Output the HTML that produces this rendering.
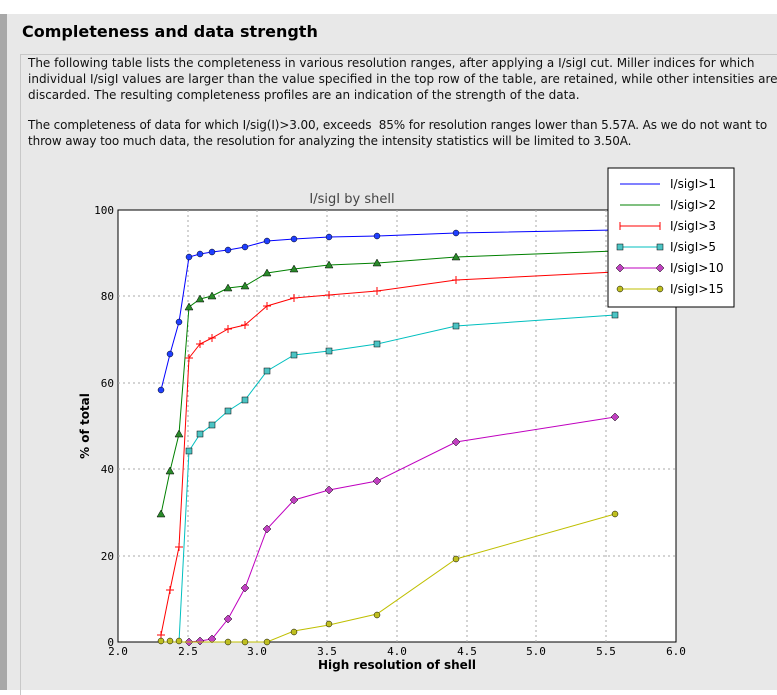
<!DOCTYPE html>
<html><head><meta charset="utf-8"><style>
body{margin:0;width:777px;height:690px;background:#fff;overflow:hidden;font-family:"DejaVu Sans","Liberation Sans",sans-serif;}
#side{position:absolute;left:0;top:14px;width:7px;height:676px;background:#a8a8a8;}
#panel{position:absolute;left:7px;top:14px;width:770px;height:676px;background:#e8e8e8;}
h2{position:absolute;left:15px;top:8px;margin:0;font-size:16px;font-weight:bold;color:#000;}
#box{position:absolute;left:13px;top:40px;width:757px;height:640px;border-top:1px solid #c8c8c8;border-left:1px solid #c8c8c8;}
p{position:absolute;left:28px;margin:0;font-size:12px;line-height:16px;color:#111;white-space:nowrap;}
svg{position:absolute;left:0;top:0;}
</style></head><body>
<div id="side"></div>
<div id="panel"><h2>Completeness and data strength</h2><div id="box"></div></div>
<p style="top:55px">The following table lists the completeness in various resolution ranges, after applying a I/sigI cut. Miller indices for which<br>individual I/sigI values are larger than the value specified in the top row of the table, are retained, while other intensities are<br>discarded. The resulting completeness profiles are an indication of the strength of the data.</p>
<p style="top:117px;letter-spacing:-0.12px">The completeness of data for which I/sig(I)&gt;3.00, exceeds&nbsp; 85% for resolution ranges lower than 5.57A. As we do not want to<br>throw away too much data, the resolution for analyzing the intensity statistics will be limited to 3.50A.</p>
<svg width="777" height="690" font-family="DejaVu Sans Mono, Liberation Mono, monospace">
<rect x="118" y="210" width="558" height="432" fill="#fff" stroke="#000"/>
<g stroke="#aaa" stroke-dasharray="2,3">
<line x1="188" y1="210" x2="188" y2="642"/><line x1="257" y1="210" x2="257" y2="642"/><line x1="327" y1="210" x2="327" y2="642"/><line x1="397" y1="210" x2="397" y2="642"/><line x1="467" y1="210" x2="467" y2="642"/><line x1="536" y1="210" x2="536" y2="642"/><line x1="606" y1="210" x2="606" y2="642"/>
<line x1="118" y1="296" x2="676" y2="296"/><line x1="118" y1="383" x2="676" y2="383"/><line x1="118" y1="469" x2="676" y2="469"/><line x1="118" y1="556" x2="676" y2="556"/>
</g>
<g font-size="11" text-anchor="middle" fill="#000">
<text x="118" y="655">2.0</text><text x="188" y="655">2.5</text><text x="257" y="655">3.0</text><text x="327" y="655">3.5</text><text x="397" y="655">4.0</text><text x="467" y="655">4.5</text><text x="536" y="655">5.0</text><text x="606" y="655">5.5</text><text x="676" y="655">6.0</text>
</g>
<g font-size="11" text-anchor="end"><text x="114" y="214">100</text><text x="114" y="300">80</text><text x="114" y="387">60</text><text x="114" y="473">40</text><text x="114" y="560">20</text><text x="114" y="646">0</text></g>
<text x="397" y="669" font-family="DejaVu Sans,sans-serif" font-size="12" font-weight="bold" text-anchor="middle">High resolution of shell</text>
<text x="0" y="0" font-family="DejaVu Sans,sans-serif" font-size="12" font-weight="bold" text-anchor="middle" transform="translate(89,426) rotate(-90)">% of total</text>
<text x="352" y="203" font-family="DejaVu Sans,sans-serif" font-size="13" fill="#444" text-anchor="middle">I/sigI by shell</text>
<polyline fill="none" stroke="#0000ff" points="161,390 170,354 179,322 189,257 200,254 212,252 228,250 245,247 267,241 294,239 329,237 377,236 456,233 615,230"/>
<g fill="#1f3fff" stroke="#000" stroke-width=".5"><circle cx="161" cy="390" r="3"/><circle cx="170" cy="354" r="3"/><circle cx="179" cy="322" r="3"/><circle cx="189" cy="257" r="3"/><circle cx="200" cy="254" r="3"/><circle cx="212" cy="252" r="3"/><circle cx="228" cy="250" r="3"/><circle cx="245" cy="247" r="3"/><circle cx="267" cy="241" r="3"/><circle cx="294" cy="239" r="3"/><circle cx="329" cy="237" r="3"/><circle cx="377" cy="236" r="3"/><circle cx="456" cy="233" r="3"/><circle cx="615" cy="230" r="3"/></g>
<polyline fill="none" stroke="#008000" points="161,514 170,471 179,434 189,307 200,299 212,296 228,288 245,286 267,273 294,269 329,265 377,263 456,257 615,251"/>
<g fill="#2a8a2a" stroke="#000" stroke-width=".5">
<polygon points="161,510 157,517 165,517"/><polygon points="170,467 166,474 174,474"/><polygon points="179,430 175,437 183,437"/><polygon points="189,303 185,310 193,310"/><polygon points="200,295 196,302 204,302"/><polygon points="212,292 208,299 216,299"/><polygon points="228,284 224,291 232,291"/><polygon points="245,282 241,289 249,289"/><polygon points="267,269 263,276 271,276"/><polygon points="294,265 290,272 298,272"/><polygon points="329,261 325,268 333,268"/><polygon points="377,259 373,266 381,266"/><polygon points="456,253 452,260 460,260"/></g>
<polyline fill="none" stroke="#ff0000" points="161,635 170,590 179,547 189,358 200,344 212,338 228,329 245,325 267,306 294,298 329,295 377,291 456,280 615,272"/>
<path stroke="#ff0000" d="M157,635h8M161,631v8M166,590h8M170,586v8M175,547h8M179,543v8M185,358h8M189,354v8M196,344h8M200,340v8M208,338h8M212,334v8M224,329h8M228,325v8M241,325h8M245,321v8M263,306h8M267,302v8M290,298h8M294,294v8M325,295h8M329,291v8M373,291h8M377,287v8M452,280h8M456,276v8"/>
<polyline fill="none" stroke="#00bfbf" points="161,642 170,642 179,642 189,451 200,434 212,425 228,411 245,400 267,371 294,355 329,351 377,344 456,326 615,315"/>
<g fill="#4cc4c4" stroke="#000" stroke-width=".5"><rect x="186" y="448" width="6" height="6"/><rect x="197" y="431" width="6" height="6"/><rect x="209" y="422" width="6" height="6"/><rect x="225" y="408" width="6" height="6"/><rect x="242" y="397" width="6" height="6"/><rect x="264" y="368" width="6" height="6"/><rect x="291" y="352" width="6" height="6"/><rect x="326" y="348" width="6" height="6"/><rect x="374" y="341" width="6" height="6"/><rect x="453" y="323" width="6" height="6"/><rect x="612" y="312" width="6" height="6"/></g>
<polyline fill="none" stroke="#bf00bf" points="161,642 170,642 179,642 189,642 200,641 212,639 228,619 245,588 267,529 294,500 329,490 377,481 456,442 615,417"/>
<g fill="#c040c0" stroke="#000" stroke-width=".5">
<path d="M189,638l4,4l-4,4l-4,-4zM200,637l4,4l-4,4l-4,-4zM212,635l4,4l-4,4l-4,-4zM228,615l4,4l-4,4l-4,-4zM245,584l4,4l-4,4l-4,-4zM267,525l4,4l-4,4l-4,-4zM294,496l4,4l-4,4l-4,-4zM329,486l4,4l-4,4l-4,-4zM377,477l4,4l-4,4l-4,-4zM456,438l4,4l-4,4l-4,-4zM615,413l4,4l-4,4l-4,-4z"/></g>
<polyline fill="none" stroke="#bfbf00" points="161,642 170,642 179,642 189,642 200,642 212,642 228,642 245,642 267,642 294,631 329,625 377,614 456,559 615,514"/>
<g fill="#bfbf20" stroke="#000" stroke-width=".5"><circle cx="161" cy="641" r="3"/><circle cx="170" cy="641" r="3"/><circle cx="179" cy="641" r="3"/><circle cx="228" cy="642" r="3"/><circle cx="245" cy="642" r="3"/><circle cx="267" cy="642" r="3"/><circle cx="294" cy="632" r="3"/><circle cx="329" cy="624" r="3"/><circle cx="377" cy="615" r="3"/><circle cx="456" cy="559" r="3"/><circle cx="615" cy="514" r="3"/></g>
<rect x="608" y="168" width="126" height="139" fill="#fff" stroke="#000"/>
<g font-family="DejaVu Sans,sans-serif" font-size="12">
<line x1="620" y1="184" x2="660" y2="184" stroke="#0000ff"/><text x="670" y="188">I/sigI&gt;1</text>
<line x1="620" y1="205" x2="660" y2="205" stroke="#008000"/><text x="670" y="209">I/sigI&gt;2</text>
<line x1="620" y1="226" x2="660" y2="226" stroke="#ff0000"/><path d="M620,222v8M660,222v8" stroke="#f00"/><text x="670" y="230">I/sigI&gt;3</text>
<line x1="620" y1="247" x2="660" y2="247" stroke="#00bfbf"/><rect x="617" y="244" width="6" height="6" fill="#4cc4c4" stroke="#000" stroke-width=".5"/><rect x="657" y="244" width="6" height="6" fill="#4cc4c4" stroke="#000" stroke-width=".5"/><text x="670" y="251">I/sigI&gt;5</text>
<line x1="620" y1="268" x2="660" y2="268" stroke="#bf00bf"/><path d="M620,264l4,4l-4,4l-4,-4zM660,264l4,4l-4,4l-4,-4z" fill="#c040c0" stroke="#000" stroke-width=".5"/><text x="670" y="272">I/sigI&gt;10</text>
<line x1="620" y1="289" x2="660" y2="289" stroke="#bfbf00"/><circle cx="620" cy="289" r="3" fill="#bfbf20" stroke="#000" stroke-width=".5"/><circle cx="660" cy="289" r="3" fill="#bfbf20" stroke="#000" stroke-width=".5"/><text x="670" y="293">I/sigI&gt;15</text>
</g>
</svg>
</body></html>
